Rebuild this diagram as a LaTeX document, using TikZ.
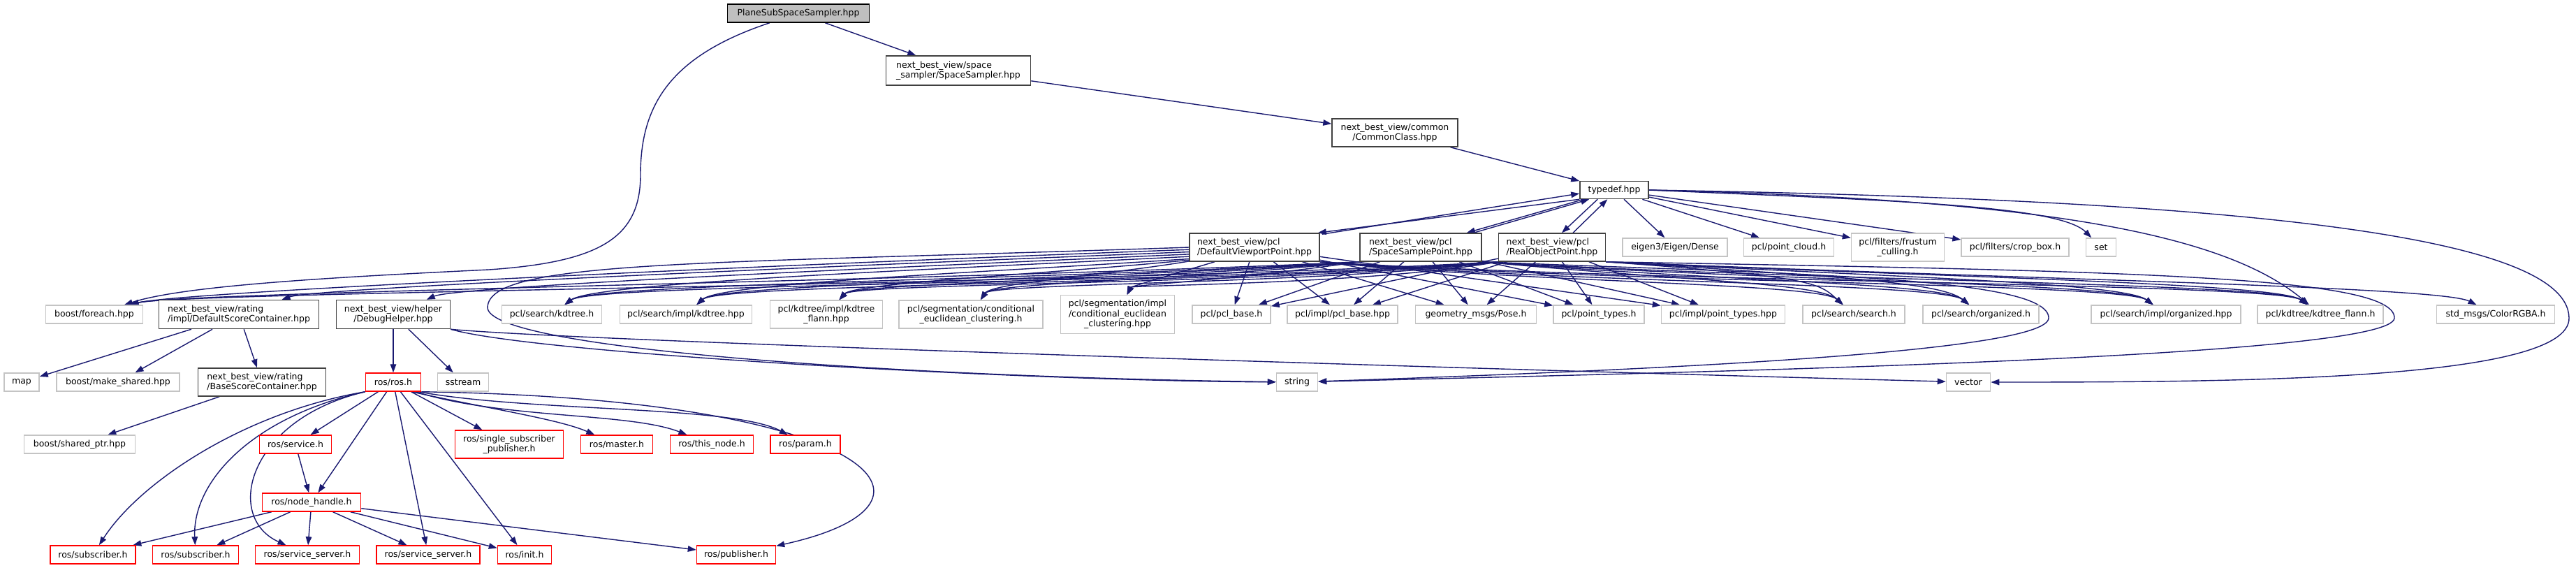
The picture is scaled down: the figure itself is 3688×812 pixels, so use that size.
\documentclass[tikz,border=0pt]{standalone}
\usepackage{fontspec}
\setmainfont{DejaVu Sans}
\usetikzlibrary{arrows.meta,calc}
\pgfdeclarelayer{back}
\pgfdeclarelayer{bg}
\pgfsetlayers{back,bg,main}
\definecolor{edgec}{HTML}{191970}
\definecolor{extc}{HTML}{C4C4C4}
\definecolor{rootc}{HTML}{BFBFBF}
\definecolor{projc}{HTML}{404040}
\definecolor{rosc}{HTML}{FF0000}
\tikzset{
 box/.style={rectangle,inner xsep=2pt,inner ysep=1pt,font=\fontsize{12.5}{14.5}\selectfont,text=black,fill=white,line width=1.5pt},
 proj/.style={box,draw=projc},
 ext/.style={box,draw=extc},
 rosn/.style={box,draw=rosc},
 root/.style={box,draw=black,fill=rootc},
 e/.style={draw=edgec,line width=1.4pt,-{Triangle[length=12pt,width=8.5pt]}},
}
\newcommand\nd[7]{\node[#6,minimum width=#4pt,minimum height=#5pt] (#1) at (#2,-#3) {#7};}
\begin{document}
\begin{tikzpicture}[x=1pt,y=1pt]
\begin{pgfonlayer}{back}
\fill[white] (0,0) rectangle (3688,-812);
\end{pgfonlayer}
\useasboundingbox (0,0) rectangle (3688,-812);
% ---- nodes
\nd{ps}{1143}{19}{203}{26}{root}{PlaneSubSpaceSampler.hpp}
\nd{ss}{1372}{101}{207}{42}{proj,align=left}{next\_best\_view/space\\\_sampler/SpaceSampler.hpp}
\nd{cc}{1997}{190}{180}{40}{proj,align=center}{next\_best\_view/common\\/CommonClass.hpp}
\nd{td}{2311}{272}{98}{25}{proj}{typedef.hpp}
\nd{dvp}{1796}{354}{186}{40}{proj,align=left}{next\_best\_view/pcl\\/DefaultViewportPoint.hpp}
\nd{ssp}{2034}{354}{174}{40}{proj,align=left}{next\_best\_view/pcl\\/SpaceSamplePoint.hpp}
\nd{rop}{2222}{354}{153}{40}{proj,align=left}{next\_best\_view/pcl\\/RealObjectPoint.hpp}
\nd{eig}{2398}{354}{150}{26}{ext}{eigen3/Eigen/Dense}
\nd{pc}{2561}{354}{129}{26}{ext}{pcl/point\_cloud.h}
\nd{fr}{2717}{354}{133}{40}{ext,align=center}{pcl/filters/frustum\\\_culling.h}
\nd{cb}{2885}{354}{154}{26}{ext}{pcl/filters/crop\_box.h}
\nd{set}{3008}{354}{43}{26}{ext}{set}
\nd{fe}{135}{450}{139}{26}{ext}{boost/foreach.hpp}
\nd{dsc}{342}{450}{229}{41}{proj,align=left}{next\_best\_view/rating\\/impl/DefaultScoreContainer.hpp}
\nd{dh}{563}{450}{163}{41}{proj,align=center}{next\_best\_view/helper\\/DebugHelper.hpp}
\nd{skd}{790}{450}{143}{26}{ext}{pcl/search/kdtree.h}
\nd{sikd}{982}{450}{189}{26}{ext}{pcl/search/impl/kdtree.hpp}
\nd{kfi}{1183}{450}{161}{40}{ext,align=center}{pcl/kdtree/impl/kdtree\\\_flann.hpp}
\nd{ceh}{1390}{450}{206}{40}{ext,align=center}{pcl/segmentation/conditional\\\_euclidean\_clustering.h}
\nd{cei}{1600}{450}{163}{55}{ext,align=center}{pcl/segmentation/impl\\/conditional\_euclidean\\\_clustering.hpp}
\nd{pb}{1763}{450}{112}{26}{ext}{pcl/pcl\_base.h}
\nd{pbi}{1922}{450}{158}{26}{ext}{pcl/impl/pcl\_base.hpp}
\nd{pose}{2113}{450}{173}{26}{ext}{geometry\_msgs/Pose.h}
\nd{pt}{2289}{450}{130}{26}{ext}{pcl/point\_types.h}
\nd{pti}{2467}{450}{177}{26}{ext}{pcl/impl/point\_types.hpp}
\nd{sh}{2654}{450}{146}{26}{ext}{pcl/search/search.h}
\nd{org}{2836}{450}{166}{26}{ext}{pcl/search/organized.h}
\nd{orgi}{3101}{450}{214}{26}{ext}{pcl/search/impl/organized.hpp}
\nd{kf}{3322}{450}{180}{26}{ext}{pcl/kdtree/kdtree\_flann.h}
\nd{col}{3573}{450}{169}{26}{ext}{std\_msgs/ColorRGBA.h}
\nd{map}{31}{547}{50}{26}{ext}{map}
\nd{ms}{169}{547}{176}{26}{ext}{boost/make\_shared.hpp}
\nd{bsc}{375}{547}{183}{40}{proj,align=left}{next\_best\_view/rating\\/BaseScoreContainer.hpp}
\nd{ros}{563}{547}{79}{26}{rosn}{ros/ros.h}
\nd{sst}{663}{547}{73}{26}{ext}{sstream}
\nd{str}{1857}{547}{59}{26}{ext}{string}
\nd{vec}{2818}{547}{63}{26}{ext}{vector}
\nd{sp}{114}{636}{159}{26}{ext}{boost/shared\_ptr.hpp}
\nd{srv}{423}{636}{103}{26}{rosn}{ros/service.h}
\nd{ssub}{729}{636}{155}{40}{rosn,align=center}{ros/single\_subscriber\\\_publisher.h}
\nd{mst}{883}{636}{103}{26}{rosn}{ros/master.h}
\nd{tn}{1019}{636}{119}{26}{rosn}{ros/this\_node.h}
\nd{par}{1153}{636}{100}{26}{rosn}{ros/param.h}
\nd{nh}{446}{719}{141}{26}{rosn}{ros/node\_handle.h}
\nd{sub1}{133}{794}{122}{26}{rosn}{ros/subscriber.h}
\nd{sub2}{280}{794}{123}{26}{rosn}{ros/subscriber.h}
\nd{ssv1}{440}{794}{149}{26}{rosn}{ros/service\_server.h}
\nd{ssv2}{613}{794}{148}{26}{rosn}{ros/service\_server.h}
\nd{ini}{751}{794}{77}{26}{rosn}{ros/init.h}
\nd{pub}{1054}{794}{113}{26}{rosn}{ros/publisher.h}
% ---- edges
\begin{pgfonlayer}{bg}
\draw[e] (ps) -- (ss);
\draw[e] (ss) -- (cc);
\draw[e] (cc) -- (td);
\coordinate (pa) at (917,-250);
\coordinate (pbx) at (700,-386);
\draw[e] (ps) .. controls (960,-80) and (917,-150) .. (pa) .. controls (917,-340) and (860,-375) .. (pbx) .. controls (450,-398) and (260,-410) .. (fe);
% typedef <-> pcl points
\draw[e] (td.south west) -- ($(dvp.north east)+(-3,0)$);
\draw[e] ($(dvp.north east)+(3,-2)$) -- ($(td.west)+(0,-5)$);
\draw[e] ($(td.south west)+(6,0)$) -- ($(ssp.north east)+(-22,0)$);
\draw[e] ($(ssp.north east)+(-12,0)$) -- ($(td.south west)+(14,0)$);
\draw[e] ($(td.south west)+(26,0)$) -- ($(rop.north)+(14,0)$);
\draw[e] ($(rop.north)+(30,0)$) -- ($(td.south west)+(40,0)$);
% typedef -> externals
\draw[e] (td) -- (eig);
\draw[e] (td) -- (pc);
\draw[e] (td) -- (fr);
\draw[e] (td) -- (cb);
\draw[e] (td.east) .. controls +(350,-15) and +(-60,60) .. (set);
\draw[e] (td.east) .. controls (2900,-285) and (3180,-330) .. (kf);
\coordinate (vr) at (3678,-455);
\draw[e] (td.east) .. controls (3150,-285) and (3676,-330) .. (vr) .. controls (3680,-545) and (3200,-547) .. (vec);
% DVP to the left
\draw[e] (dvp.182) .. controls +(-600,-22) and +(120,32) .. (fe);
\draw[e] (dvp.184) .. controls +(-500,-20) and +(110,38) .. (dsc);
\draw[e] (dvp.186) .. controls +(-450,-20) and +(90,40) .. (dh);
\draw[e] (dvp.188) .. controls +(-400,-20) and +(60,45) .. (skd);
\draw[e] (dvp.190) .. controls +(-300,-20) and +(50,45) .. (sikd);
\draw[e] (dvp.191) .. controls +(-200,-20) and +(40,45) .. (kfi);
\draw[e] (dvp.192) .. controls +(-120,-20) and +(30,45) .. (ceh);
\draw[e] (dvp.200) .. controls +(-50,-15) and +(20,40) .. (cei);
% SSP, ROP to the left
\foreach \s/\dy in {ssp/26,rop/32}{
  \foreach \t/\dx/\ex/\ey in {fe/550/120/32,skd/420/60/45,sikd/360/50/45,kfi/300/40/45,ceh/250/30/45,cei/180/20/42}
    \draw[e] (\s.south west) .. controls +(-\dx,-\dy) and +(\ex,\ey) .. (\t);
}
% straight middle ones
\foreach \s in {dvp,ssp,rop}{
  \foreach \t in {pb,pbi,pose,pt,pti}
    \draw[e] (\s) -- (\t);
}
% to the right
\foreach \s/\dy in {dvp/30,ssp/28,rop/22}{
  \foreach \t/\dx/\ex in {sh/300/50,org/350/55,orgi/420/60,kf/480/60}
    \draw[e] (\s.south east) .. controls +(\dx,-\dy) and +(-\ex,45) .. (\t);
}
\draw[e] (rop.south east) .. controls +(600,-25) and +(-80,40) .. (col);
% string and vector
\coordinate (sw) at (698,-440);
\draw[e] (dvp.180) .. controls (1000,-378) and (700,-372) .. (sw) .. controls (698,-500) and (1300,-540) .. (str);
\coordinate (l1) at (2933,-455);
\draw[e] (ssp.south east) .. controls (2550,-392) and (2933,-395) .. (l1) .. controls (2933,-505) and (2350,-530) .. (str);
\coordinate (l2) at (3428,-455);
\draw[e] (rop.south east) .. controls (3050,-388) and (3428,-395) .. (l2) .. controls (3428,-512) and (2450,-532) .. (str);
\draw[e] (dh.south east) .. controls (760,-505) and (1450,-545) .. (str);
\draw[e] (dh.south east) .. controls (820,-488) and (2100,-528) .. (vec);
% rating / helper
\draw[e] (dsc) -- (map);
\draw[e] (dsc) -- (ms);
\draw[e] (dsc) -- (bsc);
\draw[e] (bsc) -- (sp);
\draw[e] (dh) -- (ros);
\draw[e] (dh) -- (sst);
% ros
\draw[e] (ros.south west) .. controls (350,-590) and (200,-690) .. (sub1);
\draw[e] (ros.south west) .. controls (360,-597) and (275,-690) .. (sub2);
\draw[e] (ros.south west) .. controls (355,-600) and (320,-740) .. (ssv1);
\draw[e] (ros) -- (srv);
\draw[e] (ros) -- (nh);
\draw[e] (ros) -- (ssv2);
\draw[e] (ros) -- (ini);
\draw[e] (ros) -- (ssub);
\draw[e] ($(ros.south east)+(-14,0)$) .. controls (700,-585) and (800,-600) .. (mst);
\draw[e] ($(ros.south east)+(-8,0)$) .. controls (720,-600) and (900,-590) .. (tn);
\draw[e] ($(ros.south east)+(-4,0)$) .. controls (760,-590) and (1050,-580) .. (par);
\draw[e] (ros.south east) .. controls (1250,-570) and (1390,-720) .. (pub);
\draw[e] (srv) -- (nh);
\foreach \t in {sub1,sub2,ssv1,ssv2,ini,pub}
  \draw[e] (nh) -- (\t);
\end{pgfonlayer}
\end{tikzpicture}
\end{document}
